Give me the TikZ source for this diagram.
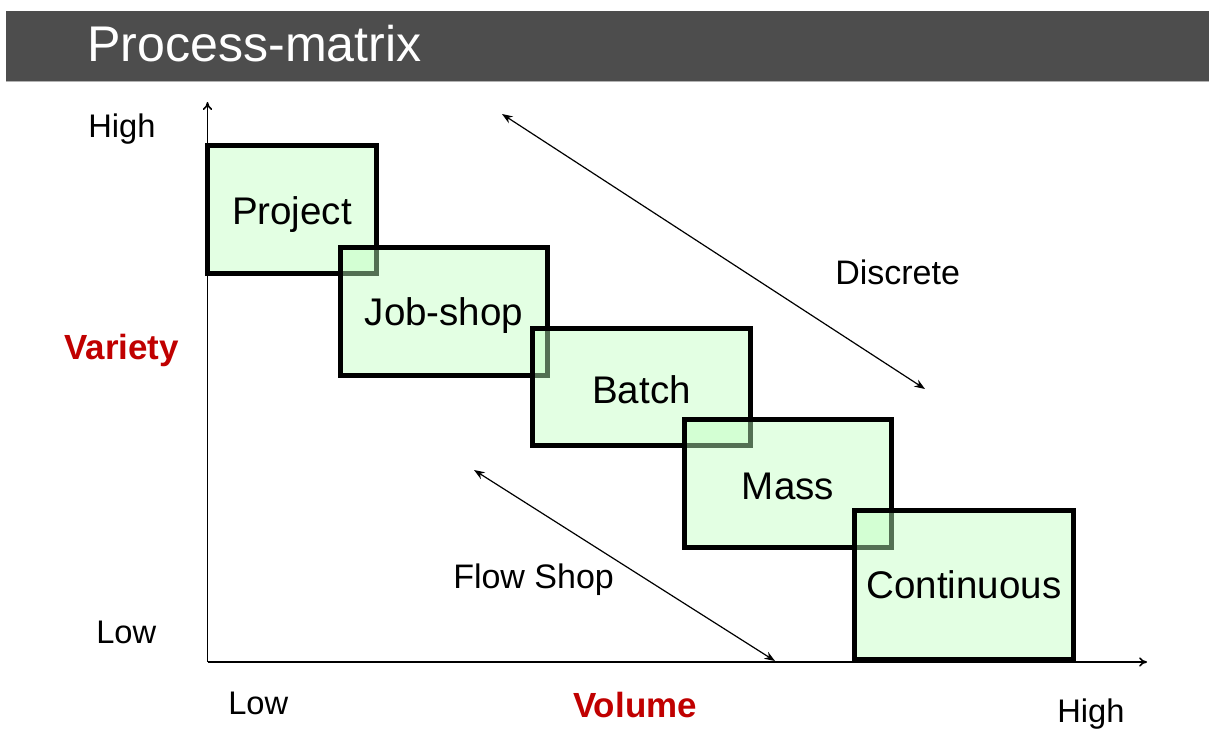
\documentclass[tikz,border=0pt]{standalone}
\usepackage{fontspec}
\setmainfont{Liberation Sans}
\usetikzlibrary{arrows.meta}
\definecolor{barGrey}{RGB}{77,77,77}
\definecolor{boxGreen}{RGB}{191,255,191}
\definecolor{axisRed}{RGB}{192,0,0}
\tikzset{
  stage/.style={draw=black, line width=3.75pt, fill=boxGreen, fill opacity=0.44,
    text opacity=1, inner sep=0pt, outer sep=0pt,
    font=\fontsize{28.9}{32}\selectfont},
  axislabel/.style={inner sep=0pt, font=\fontsize{24.5}{28}\selectfont},
  tracklabel/.style={inner sep=0pt, font=\fontsize{25.5}{28}\selectfont},
  axistitle/.style={inner sep=0pt, text=axisRed, font=\fontsize{26.2}{28}\selectfont\bfseries},
  axisline/.style={line width=1.2pt, -{To[length=6pt,width=7pt]}},
  trend/.style={line width=0.9pt, {Stealth[length=8pt,width=6pt]}-{Stealth[length=8pt,width=6pt]}}
}
% set a label a little lower without changing its box
\newcommand{\lowered}[2]{\raisebox{-#1}[\height][\depth]{#2}}
\begin{document}
\begin{tikzpicture}[x=0.75pt, y=-0.75pt]
\useasboundingbox (0,0) rectangle (1209,731);

% title bar
\fill[barGrey] (6,11) rectangle (1209,81);
\draw[gray!60, line width=1pt] (6,81.5) -- (1209,81.5);
\node[anchor=base west, inner sep=0pt, text=white, font=\fontsize{37.6}{40}\selectfont]
  (title) at (87,62) {Process-matrix};

% axes
\coordinate (origin) at (207.5,662);
\coordinate (ytop) at (207.5,102);
\coordinate (xend) at (1147,662);
\draw[axisline] (origin) -- (ytop);
\draw[axisline] (origin) -- (xend);

% process stages, later boxes overlapping earlier ones
\node[stage, minimum width=169*0.75pt, minimum height=128*0.75pt] (project) at (292,209.5) {\lowered{3.75pt}{Project}};
\node[stage, minimum width=207*0.75pt, minimum height=128*0.75pt] (jobshop) at (444,311.5) {\lowered{3pt}{Job-shop}};
\node[stage, minimum width=218*0.75pt, minimum height=117*0.75pt] (batch) at (641.5,387) {\lowered{2.25pt}{Batch}};
\node[stage, minimum width=207*0.75pt, minimum height=128*0.75pt] (mass) at (788,483.5) {\lowered{2.25pt}{Mass}};
\node[stage, minimum width=219*0.75pt, minimum height=149*0.75pt] (continuous) at (964,585) {Continuous};

% axis labels
\node[axislabel, anchor=base west] (yhigh) at (88,138) {High};
\node[axislabel, anchor=base west] (ylow) at (96,643) {Low};
\node[axistitle, anchor=base west] (variety) at (64,359) {Variety};
\node[axislabel, anchor=base west] (xlow) at (228,714) {Low};
\node[axistitle, anchor=base west] (volume) at (573,717) {Volume};
\node[axislabel, anchor=base west] (xhigh) at (1057,722) {High};

% discrete and flow-shop trends
\coordinate (dtop) at (502,114);
\coordinate (dbot) at (925,389);
\draw[trend] (dtop) -- (dbot);
\node[tracklabel, anchor=base west] (discrete) at (835,284) {Discrete};
\coordinate (ftop) at (474,470);
\coordinate (fbot) at (775,661);
\draw[trend] (ftop) -- (fbot);
\node[tracklabel, anchor=base west] (flowshop) at (453,588) {Flow Shop};
\end{tikzpicture}
\end{document}
